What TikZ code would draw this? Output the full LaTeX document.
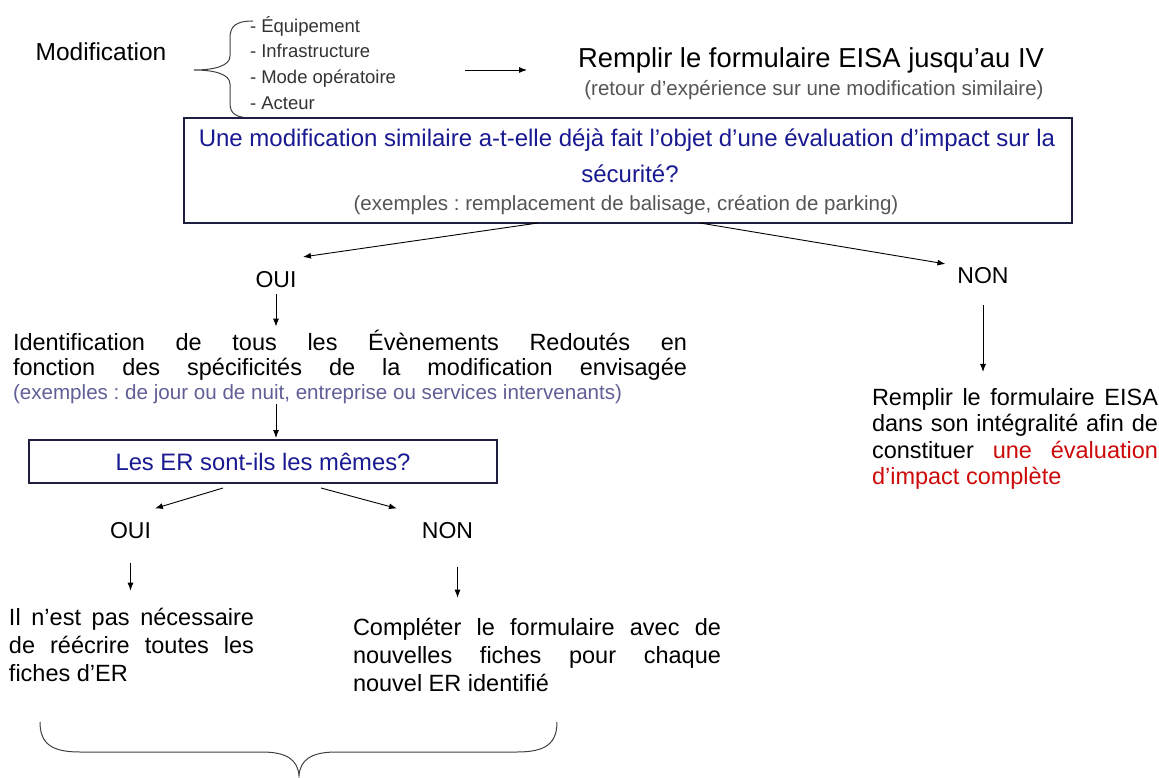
\documentclass[tikz,border=0pt]{standalone}
\usepackage{fontspec}
\setmainfont{Liberation Sans}
\usetikzlibrary{arrows.meta}
\definecolor{qblue}{RGB}{25,25,145}
\definecolor{qframe}{RGB}{30,30,65}
\definecolor{exgray}{RGB}{85,85,85}
\definecolor{exblue}{RGB}{95,95,150}
\definecolor{impred}{RGB}{205,10,10}
\newcommand{\fsz}[1]{\fontsize{#1}{#1}\selectfont}
\frenchspacing

\begin{document}
\begin{tikzpicture}
  [x=1pt,y=-1pt,
   every node/.style={inner sep=0pt,outer sep=0pt},
   txt/.style={anchor=base,font=\fsz{23.5}},
   para/.style={anchor=base west,font=\fsz{23.5}},
   lst/.style={anchor=base west,font=\fsz{18.5},text=black!80},
   ex/.style={anchor=base,font=\fsz{20.5},text=exgray},
   qbox/.style={draw=qframe,line width=1.4pt,fill=white},
   arr/.style={-{Latex[length=8pt,width=6pt]},line width=0.9pt},
   brace/.style={line width=1pt,black!75}]
  \useasboundingbox (0,0) rectangle (1159,778);

  \node[txt,font=\fsz{24.5}] (modif) at (101,61) {Modification};
  \draw[brace] (253,21) .. controls (236,21) and (230,26) .. (230,38)
    -- (230,56) .. controls (230,66) and (214,70) .. (194,70)
    .. controls (214,70) and (230,74) .. (230,84)
    -- (230,103) .. controls (230,114) and (236,118) .. (253,118);
  \foreach \i/\y/\t in {1/33/Équipement,2/58/Infrastructure,3/84/Mode opératoire,4/110/Acteur}
    \node[lst] (lst\i) at (250,\y) {- \t};

  \coordinate (fa) at (465,70);
  \coordinate (fb) at (527,70);
  \draw[arr] (fa) -- (fb);
  \node[txt,font=\fsz{27.4}] (eisa) at (811,68) {Remplir le formulaire EISA jusqu’au IV};
  \node[ex] (retex) at (814,96) {(retour d'expérience sur une modification similaire)};

  \node[qbox,minimum width=888pt,minimum height=105pt] (q1) at (628,170.5) {};
  \node[txt,text=qblue,font=\fsz{24}] (q1a) at (627,147) {Une modification similaire a-t-elle déjà fait l’objet d’une évaluation d’impact sur la};
  \node[txt,text=qblue,font=\fsz{24}] (q1b) at (630,183) {sécurité?};
  \node[ex] (q1c) at (626,211) {(exemples : remplacement de balisage, création de parking)};

  \node[txt,font=\fsz{23}] (oui1) at (276,287) {OUI};
  \node[txt,font=\fsz{23}] (non1) at (983,283) {NON};
  \draw[arr] ([xshift=-90pt]q1.south) -- ([xshift=27pt,yshift=14pt]oui1.north);
  \draw[arr] ([xshift=72pt]q1.south) -- ([xshift=-12pt,yshift=3pt]non1.north west);

  \node[para] (id1) at (13,350) {\makebox[674pt][s]{Identification de tous les Évènements Redoutés en}};
  \node[para] (id2) at (13,375) {\makebox[674pt][s]{fonction des spécificités de la modification envisagée}};
  \node[para,font=\fsz{20.6},text=exblue] (id3) at (13,399) {(exemples : de jour ou de nuit, entreprise ou services intervenants)};
  \draw[arr,shorten <=7pt,shorten >=3pt] (oui1.south) -- (oui1.south |- id1.north);

  \node[qbox,minimum width=468pt,minimum height=43pt,text=qblue,font=\fsz{23.8}] (q2) at (263,461.5) {Les ER sont-ils les mêmes?};
  \draw[arr,shorten <=1pt,shorten >=2pt] (id3.south -| oui1.south) -- (oui1.south |- q2.north);

  \node[txt,font=\fsz{23}] (oui2) at (130.5,538) {OUI};
  \node[txt,font=\fsz{23}] (non2) at (447.5,538) {NON};
  \draw[arr] ([xshift=-40pt,yshift=-5pt]q2.south) -- ([xshift=4pt,yshift=13.5pt]oui2.north east);
  \draw[arr] ([xshift=58pt,yshift=-5pt]q2.south) -- ([xshift=-25pt,yshift=13.5pt]non2.north west);

  \node[para] (lp1) at (9,625) {\makebox[245pt][s]{Il n’est pas nécessaire}};
  \node[para] (lp2) at (9,653) {\makebox[245pt][s]{de réécrire toutes les}};
  \node[para] (lp3) at (9,681) {fiches d’ER};
  \draw[arr,shorten <=25pt,shorten >=17pt] (oui2.south) -- (oui2.south |- lp1.north);

  \node[para] (rp1) at (353,635) {\makebox[368pt][s]{Compléter le formulaire avec de}};
  \node[para] (rp2) at (353,663) {\makebox[368pt][s]{nouvelles fiches pour chaque}};
  \node[para] (rp3) at (353,691) {nouvel ER identifié};
  \coordinate (n2) at ([xshift=10pt]non2.south);
  \draw[arr,shorten <=29pt,shorten >=20pt] (n2) -- (n2 |- rp1.north);

  \node[para] (fp1) at (872,405) {\makebox[286pt][s]{Remplir le formulaire EISA}};
  \node[para] (fp2) at (872,431) {\makebox[286pt][s]{dans son intégralité afin de}};
  \node[para] (fp3) at (872,458) {\makebox[286pt][s]{constituer \textcolor{impred}{une évaluation}}};
  \node[para,text=impred] (fp4) at (872,484) {d’impact complète};
  \draw[arr,shorten <=22pt,shorten >=16pt] (non1.south) -- (non1.south |- fp1.north);

  \draw[brace] (40,722) .. controls (40,744) and (52,752) .. (80,752) -- (262,752)
    .. controls (287,752) and (298,760) .. (299,776)
    .. controls (300,760) and (311,752) .. (336,752) -- (517,752)
    .. controls (545,752) and (557,744) .. (557,722);
\end{tikzpicture}
\end{document}
